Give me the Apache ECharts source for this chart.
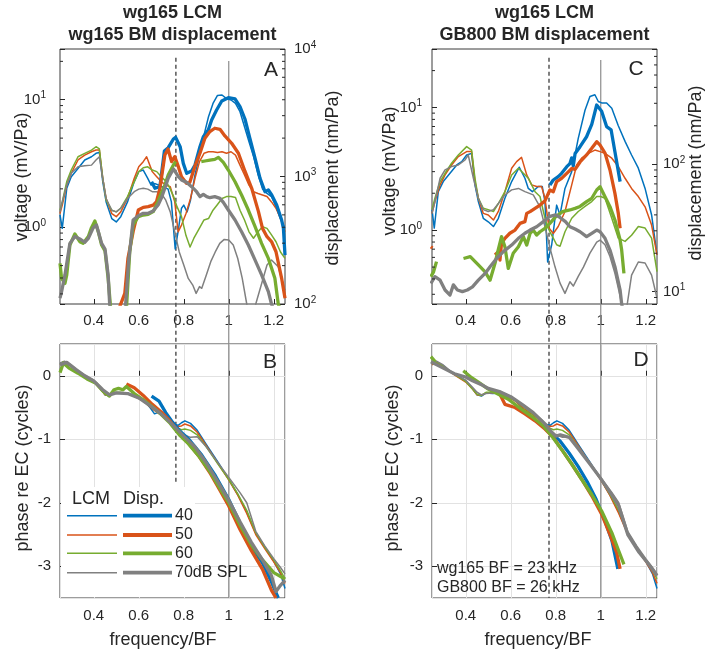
<!DOCTYPE html>
<html>
<head>
<meta charset="utf-8">
<title>wg165 LCM and BM displacement</title>
<script src="https://cdn.jsdelivr.net/npm/echarts@6.0.0/dist/echarts.min.js"></script>
<style>
  html, body { margin: 0; padding: 0; background: #fff; }
  #main { width: 711px; height: 651px; }
</style>
</head>
<body>
<div id="main"></div>
<script>
// ---------- data ----------
const levels = ['40', '50', '60', '70dB SPL'];
const colors = ['#0072BD', '#D95319', '#77AC30', '#808080'];
const bfMarkA = 0.765;   // dotted reference, left column
const bfMarkC = 0.77;    // dotted reference, right column

// panel A: LCM voltage (mV/Pa), thin lines
const lcmA40 = [[0.25,1.25],[0.26,0.98],[0.28,2.02],[0.30,2.49],[0.33,2.89],[0.36,3.37],[0.39,3.57],[0.41,3.80],[0.425,3.86],[0.44,2.28],[0.455,1.58],[0.48,1.17],[0.50,1.10],[0.52,1.21],[0.55,1.58],[0.58,2.28],[0.60,2.73],[0.62,2.81],[0.64,2.42],[0.655,2.14],[0.67,2.2],[0.69,2.14],[0.71,2.05],[0.73,2.0],[0.745,1.58],[0.762,0.675],[0.775,0.93],[0.79,1.41],[0.80,1.49],[0.815,1.32],[0.83,1.63],[0.85,2.57],[0.87,3.68],[0.89,5.28],[0.91,7.36],[0.93,9.36],[0.95,10.8],[0.97,10.9],[0.99,10.2],[1.01,9.95],[1.03,9.36],[1.05,8.06],[1.07,6.14],[1.09,4.69],[1.11,3.6],[1.13,2.6],[1.15,2.0],[1.17,1.84],[1.19,1.74],[1.21,1.45],[1.23,1.17],[1.25,0.98]];
const lcmA50 = [[0.25,1.28],[0.26,1.49],[0.28,2.14],[0.30,2.65],[0.33,3.37],[0.36,3.68],[0.39,3.91],[0.41,4.03],[0.425,4.03],[0.44,2.42],[0.455,1.68],[0.48,1.28],[0.50,1.21],[0.52,1.32],[0.55,1.68],[0.58,2.42],[0.60,2.98],[0.62,3.27],[0.635,3.57],[0.66,2.73],[0.68,2.49],[0.70,2.28],[0.72,2.14],[0.74,2.08],[0.76,1.58],[0.775,0.92],[0.79,1.04],[0.81,1.28],[0.83,1.68],[0.85,2.42],[0.87,3.27],[0.89,3.80],[0.91,3.91],[0.93,3.91],[0.95,3.86],[0.97,3.91],[0.99,3.80],[1.01,3.91],[1.03,3.68],[1.05,3.07],[1.07,2.57],[1.09,2.14],[1.11,1.90],[1.13,1.84],[1.15,1.79],[1.17,1.74],[1.19,1.58],[1.21,1.41],[1.23,1.17],[1.25,0.92]];
const lcmA60 = [[0.25,1.36],[0.26,1.58],[0.28,2.28],[0.30,2.81],[0.33,3.57],[0.36,3.80],[0.39,4.03],[0.41,4.28],[0.425,4.11],[0.44,2.42],[0.455,1.63],[0.48,1.36],[0.50,1.32],[0.52,1.41],[0.55,1.74],[0.58,2.28],[0.60,2.73],[0.62,2.93],[0.64,2.98],[0.66,2.81],[0.68,2.73],[0.70,2.49],[0.72,2.3],[0.735,2.08],[0.755,1.74],[0.77,1.45],[0.79,1.21],[0.81,0.86],[0.828,0.70],[0.845,0.82],[0.865,0.95],[0.89,1.14],[0.91,1.17],[0.93,1.36],[0.95,1.51],[0.97,1.68],[0.99,1.74],[1.01,1.74],[1.03,1.71],[1.05,1.36],[1.07,1.14],[1.09,0.92],[1.11,0.82],[1.13,0.92],[1.15,1.01],[1.17,0.98],[1.19,0.87],[1.21,0.77],[1.23,0.64],[1.25,0.57]];
const lcmA70 = [[0.25,1.32],[0.26,1.58],[0.28,2.14],[0.30,2.65],[0.33,2.98],[0.36,3.03],[0.39,3.07],[0.41,3.37],[0.425,3.57],[0.44,2.42],[0.455,1.68],[0.48,1.36],[0.50,1.32],[0.52,1.41],[0.55,1.68],[0.58,1.90],[0.60,1.99],[0.62,2.02],[0.64,1.99],[0.66,1.90],[0.68,1.90],[0.70,1.84],[0.72,1.63],[0.74,1.32],[0.76,0.92],[0.78,0.64],[0.80,0.505],[0.82,0.397],[0.84,0.352],[0.855,0.303],[0.87,0.342],[0.88,0.332],[0.90,0.42],[0.92,0.537],[0.94,0.64],[0.96,0.747],[0.98,0.803],[1.00,0.794],[1.02,0.725],[1.04,0.569],[1.06,0.397],[1.08,0.25],[1.09,0.2],[1.10,null],[1.11,0.2],[1.12,0.25],[1.17,0.505],[1.19,0.553],[1.22,0.49],[1.25,0.32]];

// panel A: BM displacement (nm/Pa), thick lines
const dispA40 = [[0.657,911],[0.672,808],[0.694,832],[0.714,1585],[0.731,1683],[0.754,1968],[0.764,2028],[0.784,1714],[0.798,1268],[0.813,1059],[0.835,1104],[0.85,1231],[0.872,1714],[0.887,2053],[0.909,2317],[0.924,2774],[0.946,3326],[0.969,3908],[0.998,4150],[1.028,4055],[1.05,3531],[1.072,2825],[1.094,1993],[1.117,1389],[1.139,968],[1.161,760],[1.176,783],[1.191,716],[1.213,597],[1.235,456],[1.243,392],[1.25,242]];
const dispA50 = [[0.515,95],[0.53,111],[0.538,121],[0.552,228],[0.575,369],[0.598,546],[0.62,573],[0.642,580],[0.664,597],[0.679,635],[0.694,808],[0.716,1475],[0.73,1645],[0.746,1307],[0.76,1431],[0.776,1195],[0.79,997],[0.812,884],[0.827,900],[0.849,1195],[0.872,1521],[0.894,1993],[0.916,2249],[0.938,2390],[0.961,2344],[0.983,2080],[1.013,1822],[1.043,1521],[1.072,1100],[1.102,808],[1.132,530],[1.15,392],[1.17,337],[1.19,309],[1.21,257],[1.235,159],[1.25,111]];
const dispA60 = [[0.25,208],[0.257,159],[0.272,145],[0.28,169],[0.294,290],[0.316,354],[0.338,308],[0.353,299],[0.376,338],[0.39,397],[0.405,448],[0.42,369],[0.435,290],[0.45,261],[0.464,159],[0.475,93],[0.5,null],[0.545,90],[0.56,257],[0.575,417],[0.598,484],[0.62,499],[0.642,505],[0.664,530],[0.686,635],[0.70,738],[0.716,857],[0.731,1028],[0.754,1231],[0.764,1307],[0.8,null],[0.878,1307],[0.894,1323],[0.916,1343],[0.938,1363],[0.954,1413],[0.976,1291],[0.998,1124],[1.028,910],[1.057,716],[1.087,546],[1.117,404],[1.146,299],[1.176,228],[1.205,159],[1.22,100],[1.23,90]];
const dispA70 = [[0.25,111],[0.257,125],[0.272,169],[0.294,299],[0.316,338],[0.338,324],[0.36,305],[0.376,327],[0.398,397],[0.412,417],[0.435,299],[0.45,270],[0.464,169],[0.472,90],[0.5,null],[0.54,90],[0.555,215],[0.575,456],[0.598,493],[0.62,514],[0.642,514],[0.664,536],[0.686,597],[0.70,674],[0.716,808],[0.731,968],[0.754,1146],[0.776,997],[0.79,940],[0.812,900],[0.835,832],[0.857,760],[0.872,695],[0.887,725],[0.902,695],[0.916,682],[0.938,695],[0.961,674],[0.976,627],[0.998,546],[1.028,456],[1.057,369],[1.087,290],[1.117,221],[1.146,169],[1.176,125],[1.19,100],[1.2,90]];

// panel C: LCM voltage (mV/Pa), thin lines
const lcmC40 = [[0.25,1.47],[0.26,1.04],[0.278,2.06],[0.30,2.49],[0.33,2.91],[0.36,3.40],[0.382,3.62],[0.404,4.10],[0.426,4.23],[0.441,2.34],[0.456,1.71],[0.478,1.25],[0.50,1.17],[0.523,1.07],[0.545,1.25],[0.574,1.82],[0.604,2.49],[0.638,3.26],[0.663,2.65],[0.678,2.19],[0.696,2.06],[0.723,2.27],[0.74,2.27],[0.752,1.71],[0.764,0.55],[0.782,0.76],[0.804,1.60],[0.819,1.33],[0.841,2.19],[0.871,3.00],[0.90,5.61],[0.93,9.5],[0.952,12.3],[0.974,12.7],[0.989,11.2],[1.004,10.9],[1.026,10.9],[1.049,9.86],[1.078,7.1],[1.108,5.3],[1.137,4.10],[1.167,3.20],[1.197,2.19],[1.226,1.33],[1.25,0.63]];
const lcmC50 = [[0.25,1.37],[0.263,1.71],[0.286,2.34],[0.308,2.82],[0.337,3.40],[0.367,3.98],[0.404,4.37],[0.426,4.37],[0.441,2.49],[0.456,1.82],[0.478,1.37],[0.50,1.33],[0.523,1.21],[0.545,1.42],[0.574,2.06],[0.604,3.20],[0.626,3.62],[0.648,3.92],[0.671,2.82],[0.693,2.34],[0.715,2.27],[0.737,2.27],[0.752,1.82],[0.77,1.04],[0.789,0.94],[0.811,1.07],[0.841,1.42],[0.871,2.34],[0.893,3.40],[0.915,3.86],[0.945,4.23],[0.974,4.50],[0.997,4.37],[1.019,4.23],[1.049,3.86],[1.078,3.30],[1.108,2.65],[1.137,2.19],[1.167,1.88],[1.197,1.55],[1.226,1.10],[1.25,0.63]];
const lcmC60 = [[0.25,1.47],[0.263,1.82],[0.286,2.49],[0.308,2.91],[0.337,3.51],[0.367,4.10],[0.404,4.80],[0.426,4.50],[0.441,2.65],[0.456,1.82],[0.478,1.51],[0.50,1.47],[0.523,1.42],[0.545,1.65],[0.574,2.06],[0.604,2.82],[0.634,3.20],[0.656,2.91],[0.678,2.65],[0.708,2.06],[0.73,1.88],[0.745,1.42],[0.76,1.10],[0.774,0.97],[0.789,0.86],[0.804,0.76],[0.819,0.74],[0.841,0.97],[0.871,1.25],[0.90,1.42],[0.93,1.56],[0.96,1.71],[0.982,1.88],[1.00,1.88],[1.019,1.82],[1.049,1.25],[1.078,0.86],[1.108,0.81],[1.137,0.91],[1.167,1.07],[1.197,1.04],[1.226,0.86],[1.25,0.46]];
const lcmC70 = [[0.25,1.37],[0.263,1.71],[0.286,2.65],[0.308,3.10],[0.337,3.30],[0.367,3.40],[0.397,3.74],[0.411,4.10],[0.434,2.65],[0.456,1.82],[0.478,1.47],[0.50,1.42],[0.523,1.47],[0.545,1.65],[0.574,1.94],[0.604,2.13],[0.634,2.19],[0.663,2.06],[0.70,1.94],[0.73,1.55],[0.752,1.07],[0.774,0.72],[0.797,0.50],[0.819,0.37],[0.841,0.305],[0.863,0.38],[0.878,0.35],[0.90,0.42],[0.923,0.50],[0.952,0.65],[0.982,0.80],[0.997,0.83],[1.019,0.76],[1.041,0.61],[1.063,0.445],[1.086,0.29],[1.096,0.23],[1.105,null],[1.115,0.23],[1.137,0.43],[1.167,0.55],[1.197,0.54],[1.226,0.43],[1.25,0.28]];

// panel C: GB800 BM displacement (nm/Pa), thick lines
const dispC40 = [[0.774,68.6],[0.789,75.1],[0.811,79.8],[0.826,84.7],[0.849,95.5],[0.863,101],[0.871,112],[0.878,97],[0.886,121],[0.908,137],[0.937,164],[0.96,205],[0.982,291],[1.004,260],[1.026,197],[1.046,186],[1.063,125],[1.086,72.9]];
const dispC50 = [[0.245,22.5],[0.252,22.0],[0.27,null],[0.53,19.4],[0.545,20.6],[0.552,17.7],[0.559,23.9],[0.574,26.2],[0.596,28.7],[0.619,30.4],[0.641,34.3],[0.663,35.4],[0.671,41.1],[0.686,42.4],[0.708,45.0],[0.73,47.8],[0.752,51.5],[0.774,62.7],[0.789,60.8],[0.804,72.9],[0.826,77.4],[0.849,84.7],[0.871,92.5],[0.886,91],[0.908,104],[0.937,118],[0.96,133],[0.982,150],[0.997,141],[1.019,122],[1.041,90],[1.063,59],[1.078,41.1],[1.086,31.4]];
const dispC60 = [[0.245,13.1],[0.257,14.3],[0.27,17.2],[0.3,null],[0.39,18.2],[0.42,18.8],[0.456,16.2],[0.486,14.3],[0.508,12.3],[0.53,16.7],[0.544,21.2],[0.559,27.0],[0.574,22.5],[0.589,15.2],[0.611,20.0],[0.634,22.5],[0.656,27.0],[0.671,23.2],[0.686,28.7],[0.70,30.4],[0.715,27.8],[0.73,29.5],[0.752,31.4],[0.774,34.3],[0.80,38.7],[0.83,42.4],[0.863,43.7],[0.886,45.0],[0.908,46.6],[0.937,50.8],[0.96,54.0],[0.982,62.7],[0.997,66.5],[1.019,55.6],[1.041,46.4],[1.063,36.5],[1.086,25.4],[1.093,21.2],[1.103,13.9]];
const dispC70 = [[0.245,11.6],[0.263,13.1],[0.286,12.3],[0.308,10.3],[0.33,9.4],[0.345,11.3],[0.363,10.3],[0.385,10.0],[0.407,10.3],[0.43,10.9],[0.456,12.3],[0.486,13.9],[0.508,15.7],[0.537,18.2],[0.567,20.6],[0.604,23.2],[0.634,26.2],[0.663,28.7],[0.686,30.4],[0.715,32.3],[0.745,35.4],[0.77,38.7],[0.8,40],[0.82,38],[0.843,35.4],[0.863,32.3],[0.886,31],[0.908,29.5],[0.937,27.0],[0.96,28.7],[0.982,30.4],[0.997,29.5],[1.019,26.2],[1.041,21.2],[1.063,15.7],[1.086,10.3],[1.093,8],[1.1,7]];

// panels B and D: LCM phase re EC (cycles), thin lines (same recording in both)
const lcmPh40 = [[0.25,0.18],[0.27,0.2],[0.3,0.16],[0.33,0.07],[0.36,0.0],[0.4,-0.08],[0.43,-0.2],[0.45,-0.3],[0.47,-0.32],[0.49,-0.27],[0.52,-0.28],[0.55,-0.27],[0.58,-0.31],[0.62,-0.38],[0.65,-0.5],[0.67,-0.6],[0.69,-0.57],[0.72,-0.66],[0.75,-0.76],[0.775,-0.78],[0.79,-0.74],[0.805,-0.71],[0.83,-0.75],[0.86,-0.86],[0.9,-1.08],[0.95,-1.35],[1.0,-1.63],[1.04,-1.87],[1.08,-2.15],[1.12,-2.48],[1.16,-2.7],[1.2,-2.92],[1.23,-3.12],[1.25,-3.35]];
const lcmPh50 = [[0.25,0.17],[0.27,0.21],[0.3,0.15],[0.33,0.06],[0.36,-0.01],[0.4,-0.1],[0.43,-0.21],[0.45,-0.3],[0.47,-0.31],[0.49,-0.27],[0.52,-0.27],[0.55,-0.28],[0.58,-0.32],[0.62,-0.4],[0.66,-0.52],[0.7,-0.62],[0.74,-0.73],[0.77,-0.8],[0.79,-0.79],[0.805,-0.76],[0.83,-0.79],[0.86,-0.89],[0.9,-1.1],[0.95,-1.37],[1.0,-1.64],[1.04,-1.88],[1.08,-2.17],[1.12,-2.5],[1.16,-2.72],[1.2,-2.93],[1.23,-3.1],[1.25,-3.27]];
const lcmPh60 = [[0.25,0.19],[0.27,0.22],[0.3,0.15],[0.33,0.07],[0.36,0.0],[0.4,-0.09],[0.43,-0.21],[0.45,-0.29],[0.47,-0.31],[0.49,-0.26],[0.52,-0.26],[0.55,-0.28],[0.58,-0.32],[0.62,-0.39],[0.66,-0.5],[0.7,-0.61],[0.74,-0.72],[0.77,-0.82],[0.79,-0.85],[0.805,-0.84],[0.83,-0.86],[0.86,-0.93],[0.9,-1.12],[0.95,-1.38],[1.0,-1.63],[1.04,-1.86],[1.08,-2.12],[1.12,-2.47],[1.16,-2.7],[1.2,-2.9],[1.23,-3.07],[1.25,-3.2]];
const lcmPh70 = [[0.25,0.2],[0.27,0.23],[0.3,0.17],[0.33,0.08],[0.36,0.01],[0.4,-0.07],[0.43,-0.18],[0.45,-0.26],[0.47,-0.3],[0.49,-0.28],[0.52,-0.27],[0.55,-0.27],[0.58,-0.31],[0.62,-0.37],[0.66,-0.47],[0.7,-0.58],[0.74,-0.7],[0.77,-0.84],[0.8,-0.93],[0.83,-0.97],[0.86,-0.96],[0.9,-1.12],[0.95,-1.36],[1.0,-1.6],[1.05,-1.84],[1.08,-2.0],[1.12,-2.45],[1.16,-2.68],[1.2,-2.88],[1.23,-3.02],[1.25,-3.12]];

// panel B: wg165 BM displacement phase, thick lines
const dispPhB40 = [[0.657,-0.32],[0.69,-0.4],[0.72,-0.58],[0.75,-0.73],[0.78,-0.86],[0.82,-0.99],[0.88,-1.25],[0.94,-1.57],[1.0,-1.95],[1.05,-2.32],[1.1,-2.68],[1.15,-2.95],[1.19,-3.25],[1.22,-3.5]];
const dispPhB50 = [[0.545,-0.13],[0.58,-0.19],[0.62,-0.31],[0.66,-0.45],[0.70,-0.57],[0.74,-0.72],[0.78,-0.9],[0.82,-1.06],[0.87,-1.28],[0.92,-1.55],[0.96,-1.8],[1.0,-2.05],[1.05,-2.42],[1.1,-2.75],[1.15,-3.05],[1.19,-3.38],[1.21,-3.5]];
const dispPhB60 = [[0.25,0.05],[0.265,0.2],[0.29,0.12],[0.33,0.04],[0.37,-0.05],[0.41,-0.12],[0.44,-0.24],[0.47,-0.32],[0.49,-0.22],[0.51,-0.2],[0.53,-0.22],[0.545,-0.17],[0.58,-0.28],[0.62,-0.38],[0.66,-0.49],[0.70,-0.61],[0.74,-0.75],[0.78,-0.93],[0.82,-1.07],[0.87,-1.28],[0.92,-1.53],[0.96,-1.77],[1.0,-2.0],[1.05,-2.35],[1.1,-2.66],[1.15,-2.9],[1.2,-3.1],[1.25,-3.2]];
const dispPhB70 = [[0.25,0.17],[0.28,0.21],[0.32,0.1],[0.36,0.0],[0.40,-0.08],[0.44,-0.22],[0.47,-0.3],[0.5,-0.27],[0.55,-0.28],[0.6,-0.35],[0.65,-0.47],[0.7,-0.6],[0.75,-0.77],[0.8,-0.95],[0.85,-1.12],[0.9,-1.37],[0.95,-1.66],[1.0,-1.96],[1.05,-2.3],[1.1,-2.62],[1.15,-2.9],[1.19,-3.15],[1.21,-3.4],[1.23,-3.3],[1.25,-3.22]];

// panel D: GB800 BM displacement phase, thick lines
const dispPhD40 = [[0.78,-0.9],[0.82,-1.03],[0.86,-1.22],[0.9,-1.43],[0.94,-1.67],[0.98,-1.95],[1.02,-2.3],[1.05,-2.6],[1.076,-3.04]];
const dispPhD50 = [[0.552,-0.29],[0.574,-0.45],[0.619,-0.5],[0.663,-0.6],[0.708,-0.71],[0.752,-0.84],[0.789,-0.97],[0.826,-1.16],[0.871,-1.39],[0.915,-1.63],[0.96,-1.89],[1.004,-2.18],[1.041,-2.5],[1.071,-2.79],[1.086,-3.04]];
const dispPhD60 = [[0.245,0.3],[0.265,0.22],[0.28,null],[0.389,0.08],[0.426,-0.03],[0.456,-0.1],[0.5,-0.21],[0.545,-0.29],[0.589,-0.37],[0.648,-0.53],[0.70,-0.66],[0.745,-0.79],[0.782,-0.95],[0.826,-1.16],[0.871,-1.39],[0.915,-1.63],[0.96,-1.87],[1.004,-2.13],[1.049,-2.47],[1.078,-2.74],[1.103,-2.97]];
const dispPhD70 = [[0.245,0.22],[0.3,0.12],[0.35,0.03],[0.4,-0.02],[0.43,-0.08],[0.47,-0.14],[0.5,-0.2],[0.55,-0.25],[0.6,-0.33],[0.65,-0.45],[0.7,-0.58],[0.75,-0.75],[0.78,-0.88],[0.8,-0.95],[0.82,-0.93],[0.86,-0.97],[0.9,-1.15],[0.95,-1.38],[1.0,-1.62],[1.05,-1.88],[1.08,-2.05],[1.12,-2.5],[1.17,-2.78],[1.22,-3.0],[1.25,-3.15]];

// ---------- chart ----------
const FONT = '"Liberation Sans", Arial, Helvetica, sans-serif';
const INK = '#262626';
const THIN = 1.5, THICK = 3.3;
const chart = echarts.init(document.getElementById('main'));

function boxGrid(left, top, height) {
  return { left, top, width: 225, height, show: true, borderColor: '#3a3a3a', borderWidth: 1, backgroundColor: 'transparent' };
}

function freqAxis(gi, withGrid) {
  return {
    gridIndex: gi, type: 'value', min: 0.25, max: 1.25, splitNumber: 5,
    axisLine: { show: false },
    axisTick: { inside: true, length: 5, lineStyle: { color: INK } },
    axisLabel: { showMinLabel: false, showMaxLabel: false, color: INK, fontSize: 15, fontFamily: FONT, margin: withGrid ? 10 : 9 },
    splitLine: { show: withGrid, lineStyle: { color: '#e2e2e2' } }
  };
}

function powLabel(v) {
  const e = Math.log10(v);
  const r = Math.round(e);
  if (Math.abs(e - r) > 1e-6) return '';
  return '{b|10}{s|' + r + '}';
}

function logAxis(gi, lo, hi, pos, margin) {
  return {
    gridIndex: gi, type: 'log', logBase: 10, min: lo, max: hi, position: pos,
    axisLine: { show: false },
    axisTick: { inside: true, length: 5, lineStyle: { color: INK } },
    splitLine: { show: false },
    axisLabel: {
      margin, formatter: powLabel,
      rich: {
        b: { fontSize: 15, fontFamily: FONT, color: INK, lineHeight: 18 },
        s: { fontSize: 10, fontFamily: FONT, color: INK, verticalAlign: 'top', lineHeight: 10 }
      }
    }
  };
}

function phaseAxis(gi) {
  return {
    gridIndex: gi, type: 'value', min: -3.5, max: 0.5, splitNumber: 4,
    axisLine: { show: false },
    axisTick: { inside: true, length: 5, lineStyle: { color: INK } },
    axisLabel: { showMinLabel: false, showMaxLabel: false, color: INK, fontSize: 15, fontFamily: FONT, margin: 9 },
    splitLine: { show: true, lineStyle: { color: '#e2e2e2' } }
  };
}

const series = [];
function addLine(data, xi, yi, ci, w) {
  series.push({
    type: 'line', xAxisIndex: xi, yAxisIndex: yi, data,
    symbol: 'none', silent: true, z: 3,
    lineStyle: { color: colors[ci], width: w, join: 'round' }
  });
}

// thin = LCM, thick = displacement
[lcmA40, lcmA50, lcmA60, lcmA70].forEach((d, i) => addLine(d, 0, 0, i, THIN));
[dispA40, dispA50, dispA60, dispA70].forEach((d, i) => addLine(d, 0, 1, i, THICK));
[lcmC40, lcmC50, lcmC60, lcmC70].forEach((d, i) => addLine(d, 1, 2, i, THIN));
[dispC40, dispC50, dispC60, dispC70].forEach((d, i) => addLine(d, 1, 3, i, THICK));
[lcmPh40, lcmPh50, lcmPh60, lcmPh70].forEach((d, i) => addLine(d, 2, 4, i, THIN));
[dispPhB40, dispPhB50, dispPhB60, dispPhB70].forEach((d, i) => addLine(d, 2, 4, i, THICK));
[lcmPh40, lcmPh50, lcmPh60, lcmPh70].forEach((d, i) => addLine(d, 3, 5, i, THIN));
[dispPhD40, dispPhD50, dispPhD60, dispPhD70].forEach((d, i) => addLine(d, 3, 5, i, THICK));

// vertical reference lines running through both panels of a column
// (y of the overlay grid: 0 = top of upper panel, 1 = bottom of lower panel)
const refLines = [
  { xi: 4, yi: 6, x: bfMarkA, from: 0.016, to: 0.789, dashed: true },
  { xi: 4, yi: 6, x: 1, from: 0.022, to: 1, dashed: false },
  { xi: 5, yi: 7, x: bfMarkC, from: 0.016, to: 1, dashed: true },
  { xi: 5, yi: 7, x: 1, from: 0.02, to: 1, dashed: false }
];
refLines.forEach(r => series.push({
  type: 'line', xAxisIndex: r.xi, yAxisIndex: r.yi, symbol: 'none', silent: true, z: 1,
  data: [[r.x, r.from], [r.x, r.to]],
  lineStyle: r.dashed ? { color: '#555', width: 1.5, type: [4, 3] } : { color: '#8c8c8c', width: 1.2 }
}));

// minor ticks on the log axes (2..9 per decade)
function minorVals(lo, hi) {
  const out = [];
  for (let e = Math.floor(Math.log10(lo)); e <= Math.ceil(Math.log10(hi)); e++) {
    for (let m = 2; m <= 9; m++) {
      const v = m * Math.pow(10, e);
      if (v > lo * 1.001 && v < hi * 0.999) out.push(v);
    }
  }
  return out;
}
function minorTicks(xi, yi, lo, hi, side) {
  const xPos = side === 'left' ? 0.25 : 1.25;
  series.push({
    type: 'custom', xAxisIndex: xi, yAxisIndex: yi, silent: true, clip: false, z: 4,
    data: minorVals(lo, hi).map(v => [xPos, v]),
    renderItem: (params, api) => {
      const p = api.coord([api.value(0), api.value(1)]);
      const dx = side === 'left' ? 3 : -3;
      return { type: 'line', shape: { x1: p[0], y1: p[1], x2: p[0] + dx, y2: p[1] }, style: { stroke: INK, lineWidth: 1 } };
    }
  });
}
minorTicks(0, 0, 0.25, 25, 'left');
minorTicks(0, 1, 100, 10000, 'right');
minorTicks(1, 2, 0.25, 30, 'left');
minorTicks(1, 3, 8, 800, 'right');

function txt(x, y, text, size, opt) {
  opt = opt || {};
  return {
    type: 'text', x, y, rotation: opt.rot || 0, z: 100, silent: true,
    style: {
      text, fill: INK,
      font: (opt.bold ? 'bold ' : '') + size + 'px ' + FONT,
      align: opt.align || 'center', verticalAlign: 'middle'
    }
  };
}
const ROT = Math.PI / 2;

const graphics = [
  // titles
  txt(172.5, 13, 'wg165 LCM', 18, { bold: true }),
  txt(172.5, 35, 'wg165 BM displacement', 18, { bold: true }),
  txt(544.5, 13, 'wg165 LCM', 18, { bold: true }),
  txt(544.5, 35, 'GB800 BM displacement', 18, { bold: true }),
  // axis titles
  txt(22, 177, 'voltage (mV/Pa)', 18, { rot: ROT }),
  txt(333, 178, 'displacement (nm/Pa)', 18, { rot: ROT }),
  txt(390, 171, 'voltage (mV/Pa)', 18, { rot: ROT }),
  txt(696, 173, 'displacement (nm/Pa)', 18, { rot: ROT }),
  txt(23, 468, 'phase re EC (cycles)', 18, { rot: ROT }),
  txt(393, 468, 'phase re EC (cycles)', 18, { rot: ROT }),
  txt(163, 640, 'frequency/BF', 18),
  txt(538, 640, 'frequency/BF', 18),
  // panel letters
  txt(271, 70, 'A', 21),
  txt(270, 362, 'B', 21),
  txt(636, 69, 'C', 21),
  txt(641, 360, 'D', 21),
  // panel D note
  txt(437, 569, 'wg165 BF = 23 kHz', 16, { align: 'left' }),
  txt(437, 588, 'GB800 BF = 26 kHz', 16, { align: 'left' }),
  // legend in panel B
  { type: 'rect', z: 90, silent: true, shape: { x: 61, y: 487, width: 134, height: 110 }, style: { fill: '#fff' } },
  txt(72, 499, 'LCM', 18, { align: 'left' }),
  txt(123, 499, 'Disp.', 18, { align: 'left' })
];
const legendRows = [515.7, 535, 553.3, 572.7];
levels.forEach((lab, i) => {
  const y = legendRows[i];
  graphics.push({ type: 'line', z: 95, silent: true, shape: { x1: 67, y1: y, x2: 117, y2: y }, style: { stroke: colors[i], lineWidth: THIN } });
  graphics.push({ type: 'line', z: 95, silent: true, shape: { x1: 123, y1: y, x2: 172, y2: y }, style: { stroke: colors[i], lineWidth: 3.8 } });
  graphics.push(txt(175, y, lab, 16, { align: 'left' }));
});

chart.setOption({
  animation: false,
  backgroundColor: '#fff',
  textStyle: { fontFamily: FONT },
  grid: [
    boxGrid(60, 49, 255), boxGrid(432, 49, 255), boxGrid(60, 344, 254), boxGrid(432, 344, 254),
    { left: 60, top: 49, width: 225, height: 549 }, { left: 432, top: 49, width: 225, height: 549 }
  ],
  xAxis: [
    freqAxis(0, false), freqAxis(1, false), freqAxis(2, true), freqAxis(3, true),
    { gridIndex: 4, type: 'value', min: 0.25, max: 1.25, show: false },
    { gridIndex: 5, type: 'value', min: 0.25, max: 1.25, show: false }
  ],
  yAxis: [
    logAxis(0, 0.25, 25, 'left', 14),
    logAxis(0, 100, 10000, 'right', 9),
    logAxis(1, 0.25, 30, 'left', 10),
    logAxis(1, 8, 800, 'right', 6),
    phaseAxis(2), phaseAxis(3),
    { gridIndex: 4, type: 'value', min: 0, max: 1, inverse: true, show: false },
    { gridIndex: 5, type: 'value', min: 0, max: 1, inverse: true, show: false }
  ],
  series,
  graphic: graphics
});
</script>
</body>
</html>
